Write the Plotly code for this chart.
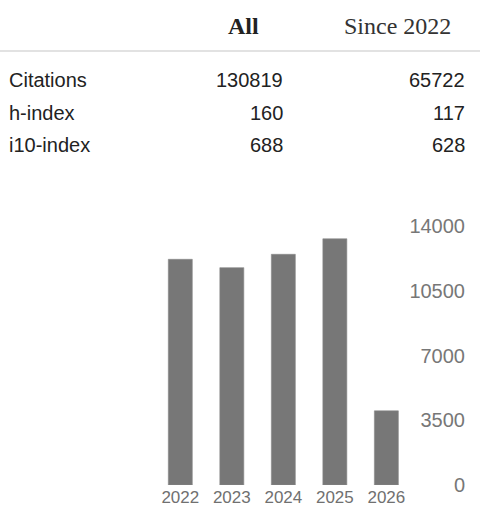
import plotly.graph_objects as go

# citation summary table
METRICS = ["Citations", "h-index", "i10-index"]
ALL_VALUES = [130819, 160, 688]
SINCE_VALUES = [65722, 117, 628]
HEADERS = ["All", "Since 2022"]

# citations per year (bar chart)
YEARS = ["2022", "2023", "2024", "2025", "2026"]
CITES = [12200, 11750, 12470, 13310, 4010]
Y_TICKS = [0, 3500, 7000, 10500, 14000]
GRID_LINES = [0, 3500, 7000, 10500]

W, H = 488, 527
L, R, T, B = 153, 23, 226, 41.7
PW, PH = W - L - R, H - T - B

SANS = "Liberation Sans, Arial, sans-serif"
SERIF = "Liberation Serif, Times New Roman, serif"


def px_x(x):
    return (x - L) / PW


def px_y(y):
    return (H - B - y) / PH


fig = go.Figure(go.Bar(
    x=YEARS, y=CITES,
    marker=dict(color="#777777", line=dict(color="#8a8a8a", width=0.6)),
    hovertemplate="%{x}: %{y}<extra></extra>",
))

for v in GRID_LINES:
    fig.add_hline(y=v, line_color="#ebebeb", line_width=2, layer="below",
                  x0=-0.03 if v == 0 else 0, x1=1)

ann = []
# header row
ann.append(dict(text="<b>" + HEADERS[0] + "</b>", x=px_x(261), y=px_y(26), xanchor="right",
                font=dict(family=SERIF, size=24, color="#222222")))
ann.append(dict(text=HEADERS[1], x=px_x(453), y=px_y(26), xanchor="right",
                font=dict(family=SERIF, size=24, color="#333333")))

row_y = [80, 113, 145]
for name, a, s, ry in zip(METRICS, ALL_VALUES, SINCE_VALUES, row_y):
    ann.append(dict(text=name, x=px_x(7), y=px_y(ry), xanchor="left",
                    font=dict(family=SANS, size=20, color="#222222")))
    ann.append(dict(text=str(a), x=px_x(285), y=px_y(ry), xanchor="right",
                    font=dict(family=SANS, size=20, color="#222222")))
    ann.append(dict(text=str(s), x=px_x(467), y=px_y(ry), xanchor="right",
                    font=dict(family=SANS, size=20, color="#222222")))

for a in ann:
    a.update(xref="paper", yref="paper", yanchor="middle", showarrow=False)

fig.update_layout(
    width=W, height=H,
    margin=dict(l=L, r=R, t=T, b=B),
    paper_bgcolor="white",
    plot_bgcolor="white",
    showlegend=False,
    bargap=0.534,
    annotations=ann,
    shapes=[dict(type="line", xref="paper", yref="paper",
                 x0=px_x(0), x1=px_x(480), y0=px_y(50.7), y1=px_y(50.7),
                 line=dict(color="#e2e2e2", width=2))],
    xaxis=dict(
        type="category", domain=[0, 255 / PW], range=[-0.53, 4.42],
        showgrid=False, zeroline=False, showline=False, ticks="",
        tickfont=dict(family=SANS, size=17, color="#707070"),
    ),
    yaxis=dict(
        range=[0, 14000], tickvals=Y_TICKS, ticktext=[str(t) for t in Y_TICKS],
        anchor="free", position=1, side="left",
        showgrid=False, zeroline=False, showline=False, ticks="",
        tickfont=dict(family=SANS, size=20, color="#777777"),
    ),
)

# page body has a default 8px margin; remove it so the figure fills the window
fig.write_html("out.html", config={"displayModeBar": False},
               post_script="document.body.style.margin='0';")
